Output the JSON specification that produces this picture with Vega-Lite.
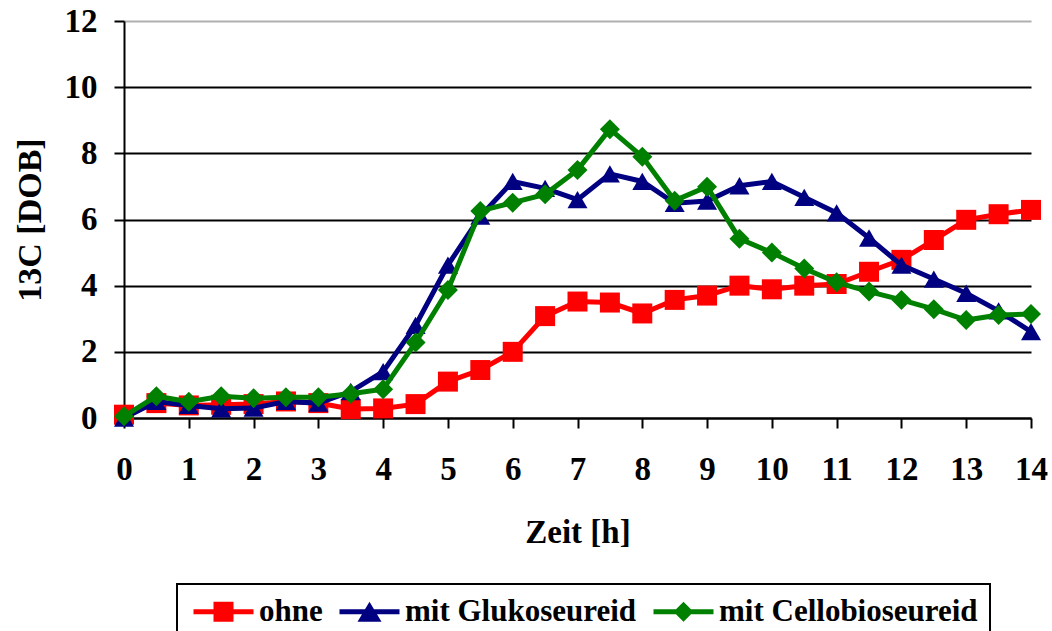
{
  "$schema": "https://vega.github.io/schema/vega-lite/v6.json",
  "width": 907,
  "height": 397,
  "autosize": "none",
  "padding": {"left": 124, "top": 21, "right": 21, "bottom": 213},
  "background": "white",
  "config": {
    "view": {"stroke": null},
    "font": "Liberation Serif",
    "axis": {
      "labelFont": "Liberation Serif",
      "labelFontWeight": "bold",
      "labelColor": "black",
      "labelFontSize": 33,
      "titleFont": "Liberation Serif",
      "titleFontWeight": "bold",
      "titleColor": "black",
      "titleFontSize": 33,
      "domainColor": "black",
      "domainWidth": 2,
      "tickColor": "black",
      "tickWidth": 2,
      "tickSize": 10
    },
    "legend": {
      "labelFont": "Liberation Serif",
      "labelFontWeight": "bold",
      "labelFontSize": 31,
      "labelColor": "black",
      "strokeWidth": 2
    }
  },
  "data": {
    "values": [
      {"t": 0, "v": 0.1, "s": "ohne"},
      {"t": 0.5, "v": 0.45, "s": "ohne"},
      {"t": 1, "v": 0.38, "s": "ohne"},
      {"t": 1.5, "v": 0.4, "s": "ohne"},
      {"t": 2, "v": 0.42, "s": "ohne"},
      {"t": 2.5, "v": 0.5, "s": "ohne"},
      {"t": 3, "v": 0.45, "s": "ohne"},
      {"t": 3.5, "v": 0.27, "s": "ohne"},
      {"t": 4, "v": 0.29, "s": "ohne"},
      {"t": 4.5, "v": 0.42, "s": "ohne"},
      {"t": 5, "v": 1.1, "s": "ohne"},
      {"t": 5.5, "v": 1.45, "s": "ohne"},
      {"t": 6, "v": 2.0, "s": "ohne"},
      {"t": 6.5, "v": 3.08, "s": "ohne"},
      {"t": 7, "v": 3.52, "s": "ohne"},
      {"t": 7.5, "v": 3.49, "s": "ohne"},
      {"t": 8, "v": 3.16, "s": "ohne"},
      {"t": 8.5, "v": 3.57, "s": "ohne"},
      {"t": 9, "v": 3.7, "s": "ohne"},
      {"t": 9.5, "v": 4.0, "s": "ohne"},
      {"t": 10, "v": 3.89, "s": "ohne"},
      {"t": 10.5, "v": 4.0, "s": "ohne"},
      {"t": 11, "v": 4.05, "s": "ohne"},
      {"t": 11.5, "v": 4.42, "s": "ohne"},
      {"t": 12, "v": 4.78, "s": "ohne"},
      {"t": 12.5, "v": 5.38, "s": "ohne"},
      {"t": 13, "v": 5.99, "s": "ohne"},
      {"t": 13.5, "v": 6.16, "s": "ohne"},
      {"t": 14, "v": 6.29, "s": "ohne"},
      {"t": 0, "v": 0.0, "s": "mit Glukoseureid"},
      {"t": 0.5, "v": 0.5, "s": "mit Glukoseureid"},
      {"t": 1, "v": 0.38, "s": "mit Glukoseureid"},
      {"t": 1.5, "v": 0.28, "s": "mit Glukoseureid"},
      {"t": 2, "v": 0.3, "s": "mit Glukoseureid"},
      {"t": 2.5, "v": 0.5, "s": "mit Glukoseureid"},
      {"t": 3, "v": 0.45, "s": "mit Glukoseureid"},
      {"t": 3.5, "v": 0.8, "s": "mit Glukoseureid"},
      {"t": 4, "v": 1.4, "s": "mit Glukoseureid"},
      {"t": 4.5, "v": 2.8, "s": "mit Glukoseureid"},
      {"t": 5, "v": 4.62, "s": "mit Glukoseureid"},
      {"t": 5.5, "v": 6.1, "s": "mit Glukoseureid"},
      {"t": 6, "v": 7.15, "s": "mit Glukoseureid"},
      {"t": 6.5, "v": 6.94, "s": "mit Glukoseureid"},
      {"t": 7, "v": 6.6, "s": "mit Glukoseureid"},
      {"t": 7.5, "v": 7.38, "s": "mit Glukoseureid"},
      {"t": 8, "v": 7.15, "s": "mit Glukoseureid"},
      {"t": 8.5, "v": 6.49, "s": "mit Glukoseureid"},
      {"t": 9, "v": 6.56, "s": "mit Glukoseureid"},
      {"t": 9.5, "v": 7.02, "s": "mit Glukoseureid"},
      {"t": 10, "v": 7.15, "s": "mit Glukoseureid"},
      {"t": 10.5, "v": 6.67, "s": "mit Glukoseureid"},
      {"t": 11, "v": 6.2, "s": "mit Glukoseureid"},
      {"t": 11.5, "v": 5.44, "s": "mit Glukoseureid"},
      {"t": 12, "v": 4.62, "s": "mit Glukoseureid"},
      {"t": 12.5, "v": 4.2, "s": "mit Glukoseureid"},
      {"t": 13, "v": 3.77, "s": "mit Glukoseureid"},
      {"t": 13.5, "v": 3.24, "s": "mit Glukoseureid"},
      {"t": 14, "v": 2.61, "s": "mit Glukoseureid"},
      {"t": 0, "v": 0.05, "s": "mit Cellobioseureid"},
      {"t": 0.5, "v": 0.66, "s": "mit Cellobioseureid"},
      {"t": 1, "v": 0.49, "s": "mit Cellobioseureid"},
      {"t": 1.5, "v": 0.66, "s": "mit Cellobioseureid"},
      {"t": 2, "v": 0.6, "s": "mit Cellobioseureid"},
      {"t": 2.5, "v": 0.63, "s": "mit Cellobioseureid"},
      {"t": 3, "v": 0.63, "s": "mit Cellobioseureid"},
      {"t": 3.5, "v": 0.73, "s": "mit Cellobioseureid"},
      {"t": 4, "v": 0.87, "s": "mit Cellobioseureid"},
      {"t": 4.5, "v": 2.28, "s": "mit Cellobioseureid"},
      {"t": 5, "v": 3.87, "s": "mit Cellobioseureid"},
      {"t": 5.5, "v": 6.26, "s": "mit Cellobioseureid"},
      {"t": 6, "v": 6.51, "s": "mit Cellobioseureid"},
      {"t": 6.5, "v": 6.76, "s": "mit Cellobioseureid"},
      {"t": 7, "v": 7.5, "s": "mit Cellobioseureid"},
      {"t": 7.5, "v": 8.73, "s": "mit Cellobioseureid"},
      {"t": 8, "v": 7.9, "s": "mit Cellobioseureid"},
      {"t": 8.5, "v": 6.57, "s": "mit Cellobioseureid"},
      {"t": 9, "v": 6.99, "s": "mit Cellobioseureid"},
      {"t": 9.5, "v": 5.42, "s": "mit Cellobioseureid"},
      {"t": 10, "v": 5.0, "s": "mit Cellobioseureid"},
      {"t": 10.5, "v": 4.52, "s": "mit Cellobioseureid"},
      {"t": 11, "v": 4.1, "s": "mit Cellobioseureid"},
      {"t": 11.5, "v": 3.82, "s": "mit Cellobioseureid"},
      {"t": 12, "v": 3.57, "s": "mit Cellobioseureid"},
      {"t": 12.5, "v": 3.29, "s": "mit Cellobioseureid"},
      {"t": 13, "v": 2.96, "s": "mit Cellobioseureid"},
      {"t": 13.5, "v": 3.11, "s": "mit Cellobioseureid"},
      {"t": 14, "v": 3.14, "s": "mit Cellobioseureid"}
    ]
  },
  "encoding": {
    "x": {
      "field": "t", "type": "quantitative",
      "scale": {"domain": [0, 14], "nice": false, "zero": false},
      "axis": {
        "values": [0,1,2,3,4,5,6,7,8,9,10,11,12,13,14],
        "grid": false,
        "labelPadding": 25,
        "title": "Zeit [h]",
        "titleY": 98,
        "titleBaseline": "top",
        "labelFlush": false,
        "labelOverlap": false
      }
    },
    "y": {
      "field": "v", "type": "quantitative",
      "scale": {"domain": [0, 12], "nice": false},
      "axis": {
        "values": [0,2,4,6,8,10,12],
        "grid": true,
        "gridColor": {"condition": {"test": "datum.value === 12", "value": "#b0b0b0"}, "value": "black"},
        "gridWidth": 2,
        "labelPadding": 17,
        "title": "13C [DOB]",
        "titleFontSize": 34,
        "titleX": -84,
        "titleBaseline": "alphabetic",
        "labelFlush": false,
        "labelOverlap": false
      }
    },
    "color": {
      "field": "s", "type": "nominal",
      "scale": {
        "domain": ["ohne", "mit Glukoseureid", "mit Cellobioseureid"],
        "range": ["#FF0000", "#000080", "#008000"]
      },
      "legend": {
        "title": null,
        "orient": "none",
        "direction": "horizontal",
        "legendX": 53,
        "legendY": 563,
        "padding": 12,
        "strokeColor": "black",
        "fillColor": "white",
        "symbolSize": 400,
        "symbolStrokeWidth": 0,
        "labelOffset": 39,
        "columnPadding": 12,
        "labelLimit": 400,
        "encode": {
          "symbols": {
            "update": {
              "shape": {"signal": "datum.value === 'ohne' ? 'M-1.1,-0.25H4.9V0.25H-1.1ZM0.9,-1H2.9V1H0.9Z' : datum.value === 'mit Glukoseureid' ? 'M-1.1,-0.25H4.9V0.25H-1.1ZM1.9,-1L3.1,1L0.7,1Z' : 'M-1.1,-0.25H4.9V0.25H-1.1ZM1.9,-1L2.9,0L1.9,1L0.9,0Z'"},
              "fill": {"scale": "color", "field": "value"},
              "stroke": {"value": "transparent"},
              "opacity": {"value": 1},
              "fillOpacity": {"value": 1}
            }
          }
        }
      }
    }
  },
  "layer": [
    {
      "transform": [{"filter": "datum.s === 'ohne'"}],
      "mark": {"type": "line", "strokeWidth": 5, "point": {"shape": "square", "size": 400, "filled": true, "opacity": 1}}
    },
    {
      "transform": [{"filter": "datum.s === 'mit Glukoseureid'"}],
      "mark": {"type": "line", "strokeWidth": 5, "point": {"shape": "triangle-up", "size": 400, "filled": true, "opacity": 1}}
    },
    {
      "transform": [{"filter": "datum.s === 'mit Cellobioseureid'"}],
      "mark": {"type": "line", "strokeWidth": 5, "point": {"shape": "diamond", "size": 400, "filled": true, "opacity": 1}}
    }
  ]
}
